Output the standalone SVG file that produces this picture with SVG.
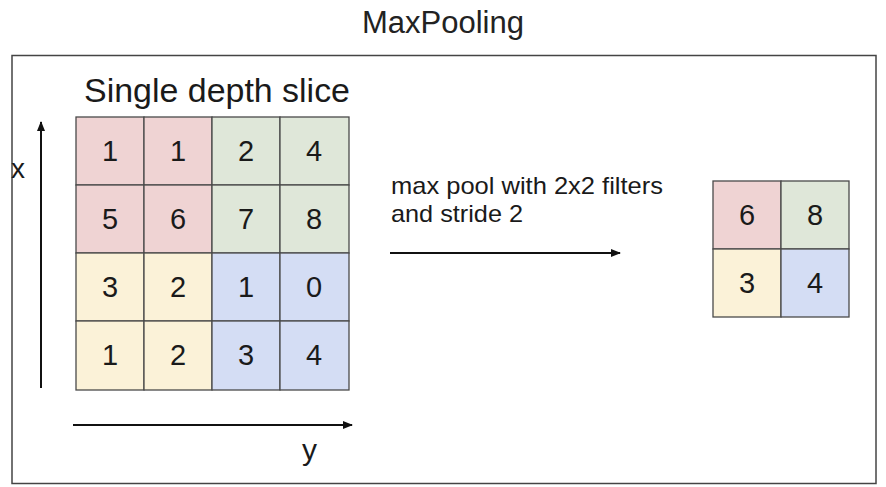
<svg xmlns="http://www.w3.org/2000/svg" width="886" height="487" viewBox="0 0 886 487">
<style>
text{font-family:"Liberation Sans",Arial,sans-serif;fill:#1a1a1a}
.num{font-size:29px;text-anchor:middle;dominant-baseline:central}
.cell{stroke:#4a4a4a;stroke-width:1.3}
.r{fill:#efd3d3}.g{fill:#dfe7d9}.y{fill:#fbf2d8}.b{fill:#d4ddf4}
.ax{stroke:#111;stroke-width:2;fill:none}
.cap{font-size:24px}
</style>
<defs>
<marker id="ah" viewBox="0 0 10 10" refX="9" refY="5" markerWidth="5" markerHeight="5" orient="auto" markerUnits="strokeWidth">
<path d="M0,1 L10,5 L0,9 Z" fill="#111"/>
</marker>
</defs>
<rect width="886" height="487" fill="#fff"/>
<text x="443" y="33" font-size="31" text-anchor="middle" style="fill:#222">MaxPooling</text>
<rect x="12" y="55.5" width="864" height="428" fill="none" stroke="#444" stroke-width="1.5"/>
<g id="input">
<text x="84" y="102" font-size="34" textLength="266" lengthAdjust="spacingAndGlyphs">Single depth slice</text>
<rect class="cell r" x="76" y="117" width="68" height="68"/><text class="num" x="110" y="151">1</text>
<rect class="cell r" x="144" y="117" width="68" height="68"/><text class="num" x="178" y="151">1</text>
<rect class="cell g" x="212" y="117" width="68" height="68"/><text class="num" x="246" y="151">2</text>
<rect class="cell g" x="280" y="117" width="69" height="68"/><text class="num" x="314" y="151">4</text>
<rect class="cell r" x="76" y="185" width="68" height="68"/><text class="num" x="110" y="219">5</text>
<rect class="cell r" x="144" y="185" width="68" height="68"/><text class="num" x="178" y="219">6</text>
<rect class="cell g" x="212" y="185" width="68" height="68"/><text class="num" x="246" y="219">7</text>
<rect class="cell g" x="280" y="185" width="69" height="68"/><text class="num" x="314" y="219">8</text>
<rect class="cell y" x="76" y="253" width="68" height="68"/><text class="num" x="110" y="287">3</text>
<rect class="cell y" x="144" y="253" width="68" height="68"/><text class="num" x="178" y="287">2</text>
<rect class="cell b" x="212" y="253" width="68" height="68"/><text class="num" x="246" y="287">1</text>
<rect class="cell b" x="280" y="253" width="69" height="68"/><text class="num" x="314" y="287">0</text>
<rect class="cell y" x="76" y="321" width="68" height="69"/><text class="num" x="110" y="355">1</text>
<rect class="cell y" x="144" y="321" width="68" height="69"/><text class="num" x="178" y="355">2</text>
<rect class="cell b" x="212" y="321" width="68" height="69"/><text class="num" x="246" y="355">3</text>
<rect class="cell b" x="280" y="321" width="69" height="69"/><text class="num" x="314" y="355">4</text>
</g>
<g id="output">
<rect class="cell r" x="713" y="181" width="68" height="68"/><text class="num" x="747" y="215">6</text>
<rect class="cell g" x="781" y="181" width="68" height="68"/><text class="num" x="815" y="215">8</text>
<rect class="cell y" x="713" y="249" width="68" height="68"/><text class="num" x="747" y="283">3</text>
<rect class="cell b" x="781" y="249" width="68" height="68"/><text class="num" x="815" y="283">4</text>
</g>
<g id="labels">
<text x="11" y="178" font-size="28">x</text>
<text x="302" y="460" font-size="30">y</text>
<text class="cap" x="391" y="194" textLength="272" lengthAdjust="spacingAndGlyphs">max pool with 2x2 filters</text>
<text class="cap" x="391" y="222" textLength="132" lengthAdjust="spacingAndGlyphs">and stride 2</text>
</g>
<g id="connectors">
<line class="ax" x1="41" y1="388" x2="41" y2="122" marker-end="url(#ah)"/>
<line class="ax" x1="73" y1="425" x2="352" y2="425" marker-end="url(#ah)"/>
<line class="ax" x1="390" y1="253" x2="620" y2="253" marker-end="url(#ah)"/>
</g>
</svg>
